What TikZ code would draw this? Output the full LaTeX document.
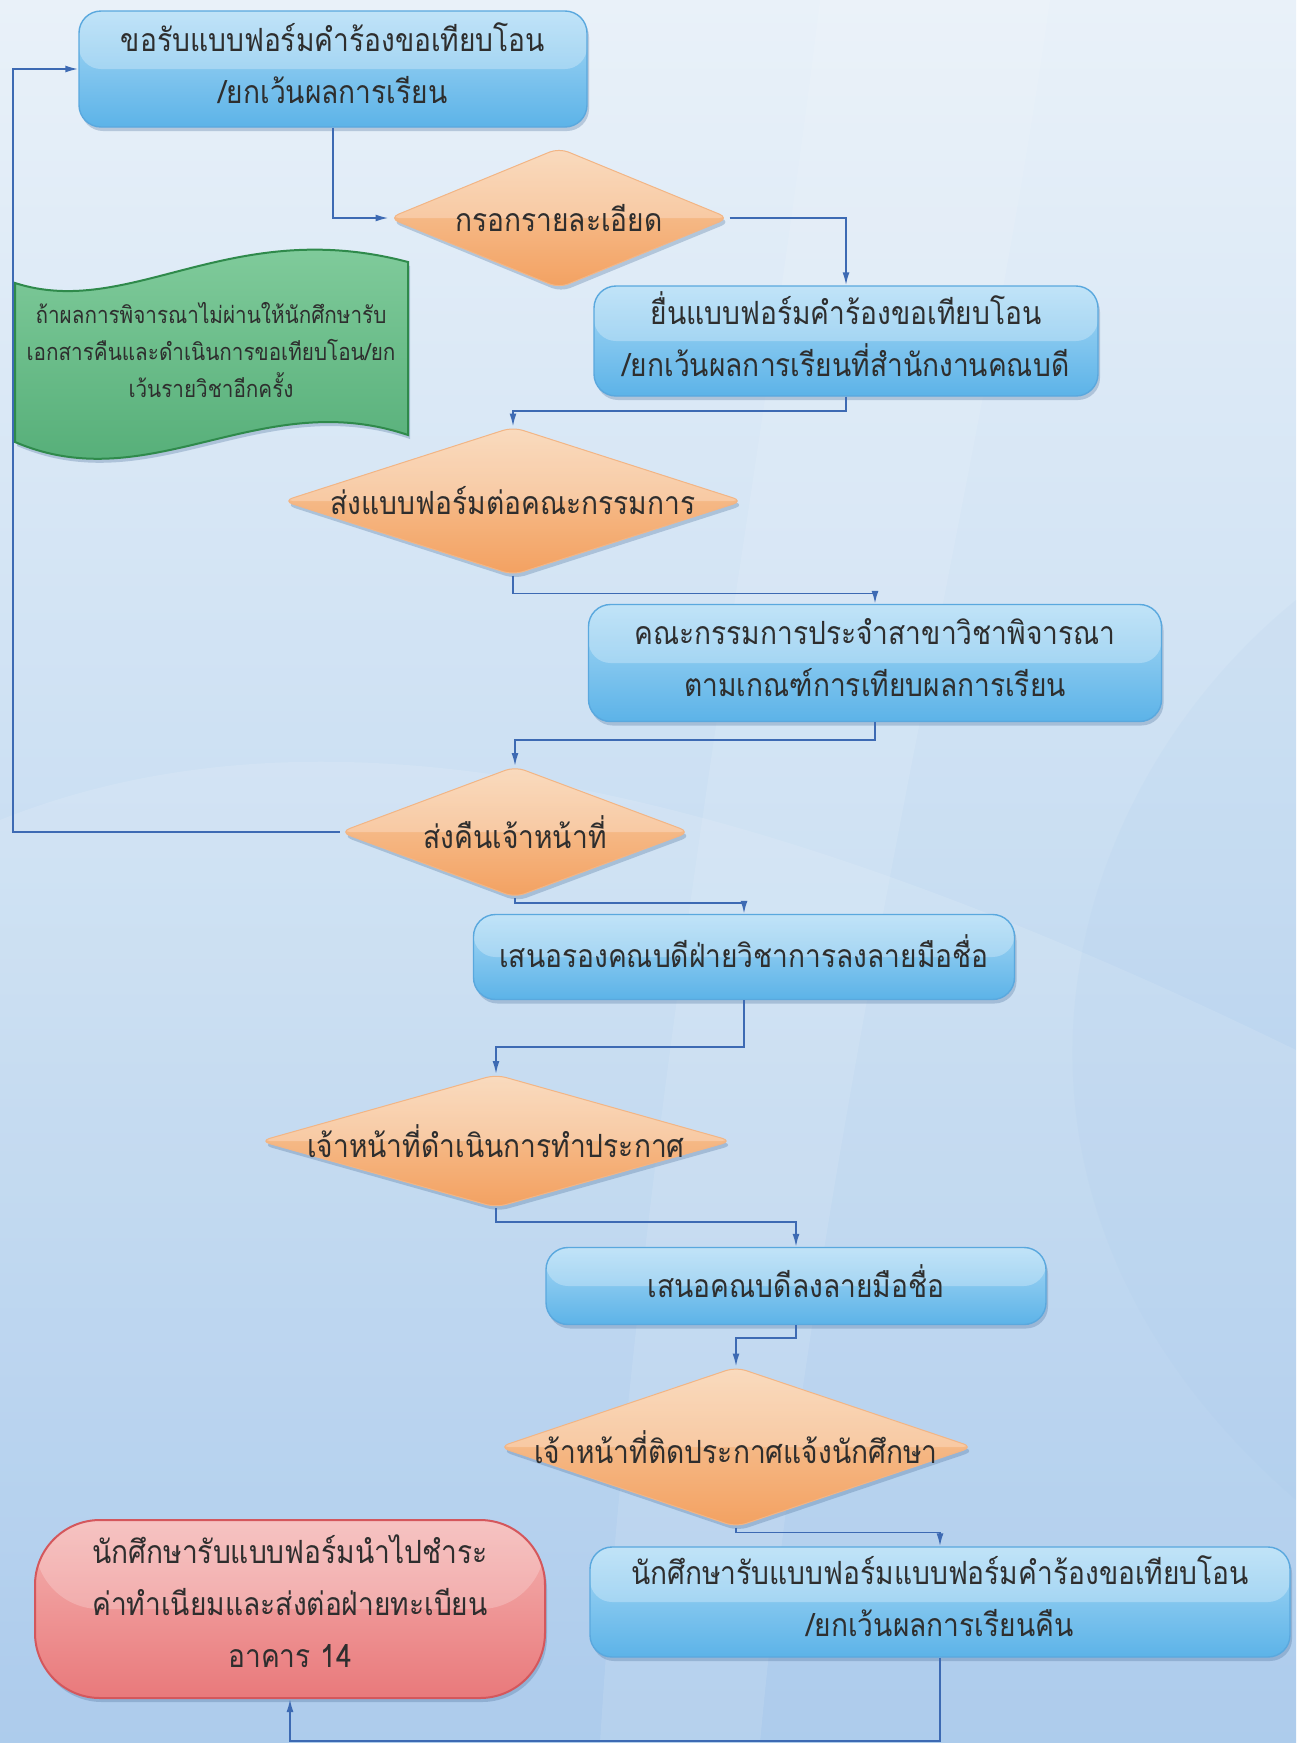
\documentclass[tikz,border=0pt]{standalone}
\usepackage{fontspec}
\newfontfamily\thaifont[Script=Thai, FakeStretch=0.88]{Loma}
\usetikzlibrary{arrows.meta, shapes.geometric, shadows, calc}
\definecolor{bgtop}{HTML}{E9F1F9}
\definecolor{bgmid}{HTML}{C9DEF2}
\definecolor{bgbot}{HTML}{A2C5EA}
\definecolor{lineblue}{HTML}{3D6AB3}
\definecolor{boxtop}{HTML}{A9D9F5}
\definecolor{boxbot}{HTML}{5CB3E8}
\definecolor{boxedge}{HTML}{5AA8DE}
\definecolor{diatop}{HTML}{F8CFA9}
\definecolor{diabot}{HTML}{F3A161}
\definecolor{diaedge}{HTML}{F2B585}
\definecolor{redtop}{HTML}{F4B3B1}
\definecolor{redbot}{HTML}{E9797B}
\definecolor{rededge}{HTML}{D4575C}
\definecolor{greentop}{HTML}{86CFA0}
\definecolor{greenbot}{HTML}{4FAA73}
\definecolor{greenedge}{HTML}{2F8A4B}
\definecolor{txt}{HTML}{2E2E2E}
\definecolor{shadowc}{HTML}{4A6F99}
\begin{document}
\begin{tikzpicture}[x=1pt, y=-1pt,
  font=\thaifont\fontsize{32}{52}\selectfont,
  conn/.style={draw=lineblue, line width=1.8pt},
  arr/.style={conn, -{Latex[length=13pt,width=7pt]}},
  softshadow/.style={drop shadow={shadow xshift=2pt, shadow yshift=-4pt, opacity=0.3, fill=shadowc}},
  bluebox/.style={rectangle, rounded corners=22pt, draw=boxedge, line width=1.4pt,
    top color=boxtop, bottom color=boxbot, softshadow, inner sep=0pt,
    path picture={\fill[white, opacity=0.28] (path picture bounding box.north west) rectangle (path picture bounding box.east);}},
  btext/.style={text=txt, inner sep=0pt, align=center},
  diabox/.style={diamond, rounded corners=10pt, draw=diaedge, line width=1pt,
    top color=diatop, bottom color=diabot, softshadow, inner sep=0pt,
    path picture={\fill[white, opacity=0.25] (path picture bounding box.north west) rectangle (path picture bounding box.east);}},
  dtext/.style={text=txt, inner sep=0pt},
  redbox/.style={rectangle, rounded corners=65pt, draw=rededge, line width=2pt,
    top color=redtop, bottom color=redbot, softshadow, inner sep=0pt,
    path picture={\fill[white, opacity=0.22] (path picture bounding box.north west) rectangle (path picture bounding box.east);}},
  flag/.style={draw=greenedge, line width=2pt, top color=greentop, bottom color=greenbot, softshadow}
]
% background
\useasboundingbox (0,0) rectangle (1296,1743);
\fill[top color=bgtop, bottom color=bgbot, middle color=bgmid] (0,0) rectangle (1296,1743);
\fill[white, opacity=0.12] (0,820) .. controls (300,700) and (700,760) .. (1296,1050) -- (1296,1743) -- (0,1743) -- cycle;
\fill[white, opacity=0.10] (820,0) .. controls (760,500) and (640,1100) .. (600,1743) -- (760,1743) .. controls (820,1100) and (980,500) .. (1050,0) -- cycle;
\fill[bgbot, opacity=0.10] (1296,600) .. controls (1050,800) and (950,1200) .. (1296,1500) -- cycle;

% green note
\path[flag] (15,283) .. controls (130,320) and (230,215) .. (408,262) -- (408,435) .. controls (260,385) and (150,500) .. (15,442) -- cycle;
\node[text=txt, align=center, font=\thaifont\fontsize{23.5}{37}\selectfont] (note) at (211,350)
  {ถ้าผลการพิจารณาไม่ผ่านให้นักศึกษารับ\\เอกสารคืนและดำเนินการขอเทียบโอน/ยก\\เว้นรายวิชาอีกครั้ง};

% process boxes
\node[bluebox, minimum width=508pt, minimum height=116pt] (b1) at (333,69) {};
\node[btext] (b1t) at ([yshift=6pt]b1.center) {ขอรับแบบฟอร์มคำร้องขอเทียบโอน\\/ยกเว้นผลการเรียน};
\node[bluebox, minimum width=504pt, minimum height=110pt] (b2) at (846,341) {};
\node[btext] (b2t) at ([yshift=7pt]b2.center) {ยื่นแบบฟอร์มคำร้องขอเทียบโอน\\/ยกเว้นผลการเรียนที่สำนักงานคณบดี};
\node[bluebox, minimum width=573pt, minimum height=117pt] (b3) at (875,663) {};
\node[btext] (b3t) at ([yshift=5pt]b3.center) {คณะกรรมการประจำสาขาวิชาพิจารณา\\ตามเกณฑ์การเทียบผลการเรียน};
\node[bluebox, minimum width=541pt, minimum height=85pt] (b4) at (744,957) {};
\node[btext] (b4t) at ([yshift=6pt]b4.center) {เสนอรองคณบดีฝ่ายวิชาการลงลายมือชื่อ};
\node[bluebox, minimum width=500pt, minimum height=77pt] (b5) at (796,1286) {};
\node[btext] (b5t) at ([yshift=5pt]b5.center) {เสนอคณบดีลงลายมือชื่อ};
\node[bluebox, minimum width=700pt, minimum height=110pt] (b6) at (940,1602) {};
\node[btext] (b6t) at ([yshift=6pt]b6.center) {นักศึกษารับแบบฟอร์มแบบฟอร์มคำร้องขอเทียบโอน\\/ยกเว้นผลการเรียนคืน};
\node[redbox, minimum width=510pt, minimum height=178pt] (red) at (290,1609) {};
\node[btext] (redt) at ([yshift=8pt]red.center) {นักศึกษารับแบบฟอร์มนำไปชำระ\\ค่าทำเนียมและส่งต่อฝ่ายทะเบียน\\อาคาร 14};

% decision diamonds
\node[diabox, minimum width=340pt, minimum height=140pt] (d1) at (559,218) {};
\node[dtext] (d1t) at (d1.center) {กรอกรายละเอียด};
\node[diabox, minimum width=460pt, minimum height=148pt] (d2) at (513,501) {};
\node[dtext] (d2t) at (d2.center) {ส่งแบบฟอร์มต่อคณะกรรมการ};
\node[diabox, minimum width=350pt, minimum height=131pt] (d3) at (515,832) {};
\node[dtext] (d3t) at (d3.center) {ส่งคืนเจ้าหน้าที่};
\node[diabox, minimum width=472pt, minimum height=133pt] (d4) at (496,1141) {};
\node[dtext] (d4t) at (d4.center) {เจ้าหน้าที่ดำเนินการทำประกาศ};
\node[diabox, minimum width=474pt, minimum height=160pt] (d5) at (736,1447) {};
\node[dtext] (d5t) at (d5.center) {เจ้าหน้าที่ติดประกาศแจ้งนักศึกษา};

% helper coordinates
\coordinate (loopx) at (13,0);
\coordinate (floory) at (0,1741);

% connectors
\draw[arr] (b1.south) |- (d1.west);
\draw[arr] (d1.east) -| (b2.north);
\draw[arr] (b2.south) -- ++(0,14) -| (d2.north);
\draw[arr] (d2.south) -- ++(0,18) -| (b3.north);
\draw[arr] (b3.south) -- ++(0,18) -| (d3.north);
\draw[arr] (d3.west) -- (d3.west -| loopx) |- (b1.west);
\draw[arr] (d3.south) -- ++(0,5) -| (b4.north);
\draw[arr] (b4.south) -- ++(0,47) -| (d4.north);
\draw[arr] (d4.south) -- ++(0,14) -| (b5.north);
\draw[arr] (b5.south) -- ++(0,13) -| (d5.north);
\draw[arr] (d5.south) -- ++(0,5) -| (b6.north);
\draw[arr] (b6.south) -- (b6.south |- floory) -| (red.south);
\end{tikzpicture}
\end{document}
